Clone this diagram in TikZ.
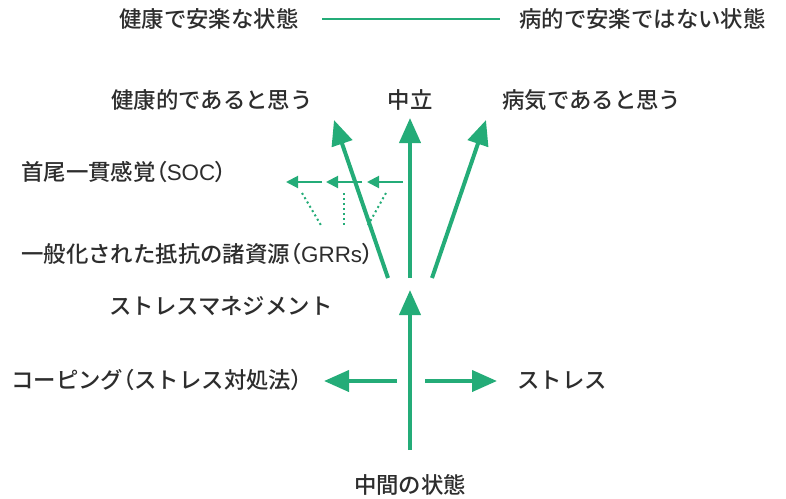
\documentclass[tikz,border=0pt]{standalone}
\usepackage{fontspec}
\setmainfont{Noto Sans CJK JP}[UprightFont=* Medium]
\newfontfamily\pfont{Noto Sans CJK JP}[UprightFont=* Medium, RawFeature=+palt]
\newfontfamily\latfont{Liberation Sans}
\usetikzlibrary{arrows.meta}
\definecolor{grn}{RGB}{36,172,120}
\definecolor{txt}{RGB}{45,45,45}
\newcommand{\lp}{{\pfont （}}
\newcommand{\rp}{{\pfont ）}}
\tikzset{
  lbl/.style={inner sep=0pt, text=txt, font=\fontsize{22.4}{26}\selectfont},
  bigarrow/.style={grn, line width=4pt, -{Triangle[length=25pt,width=21pt]}},
  smallarrow/.style={grn, line width=2pt, -{Triangle[length=12pt,width=12pt]}},
  dotline/.style={grn, line width=2pt, dash pattern=on 2pt off 3pt},
  plainline/.style={grn, line width=2pt}
}
\begin{document}
\begin{tikzpicture}[x=1pt,y=-1pt]
\useasboundingbox (0,0) rectangle (786,498);
% top scale
\node[lbl, anchor=west] (healthy) at (119,19) {健康で安楽な状態};
\node[lbl, anchor=west] (ill) at (519,19) {病的で安楽ではない状態};
\coordinate (la) at (322,19);
\coordinate (lb) at (500,19);
\draw[plainline] (la) -- (lb);
% row 2
\node[lbl, anchor=west] (think1) at (111,100) {健康的であると思う};
\node[lbl] (neutral) at (410,100) {中立};
\node[lbl, anchor=west] (think2) at (502,100) {病気であると思う};
% left labels
\node[lbl, anchor=west] (soc) at (21,172) {首尾一貫感覚\lp{\latfont SOC}\rp};
\node[lbl, anchor=west] (grr) at (21,254) {一般化された抵抗の諸資源\lp{\latfont GRRs}\rp};
\node[lbl, anchor=west] (sm) at (109,306) {ストレスマネジメント};
\node[lbl, anchor=west] (coping) at (11,380) {コーピング\lp ストレス対処法\rp};
\node[lbl, anchor=west] (stress) at (517,380) {ストレス};
\node[lbl] (mid) at (410,485) {中間の状態};
% upper fan arrows
\coordinate (uL0) at (388,278); \coordinate (uL1) at (334,120);
\coordinate (uM0) at (410,278); \coordinate (uM1) at (410,118);
\coordinate (uR0) at (432,278); \coordinate (uR1) at (486,120);
\draw[bigarrow] (uL0) -- (uL1);
\draw[bigarrow] (uM0) -- (uM1);
\draw[bigarrow] (uR0) -- (uR1);
% small SOC arrows
\coordinate (s1a) at (322,182); \coordinate (s1b) at (286,182);
\coordinate (s2a) at (362,182); \coordinate (s2b) at (326,182);
\coordinate (s3a) at (403,182); \coordinate (s3b) at (367,182);
\draw[smallarrow] (s1a) -- (s1b);
\draw[smallarrow] (s2a) -- (s2b);
\draw[smallarrow] (s3a) -- (s3b);
% dotted lines
\coordinate (d1a) at (302,193); \coordinate (d1b) at (322,227);
\coordinate (d2a) at (344,193); \coordinate (d2b) at (344,227);
\coordinate (d3a) at (386,193); \coordinate (d3b) at (367,227);
\draw[dotline] (d1a) -- (d1b);
\draw[dotline] (d2a) -- (d2b);
\draw[dotline] (d3a) -- (d3b);
% lower arrows
\coordinate (v0) at (410,450); \coordinate (v1) at (410,290);
\coordinate (hl0) at (397,381); \coordinate (hl1) at (324,381);
\coordinate (hr0) at (425,381); \coordinate (hr1) at (497,381);
\draw[bigarrow] (v0) -- (v1);
\draw[bigarrow] (hl0) -- (hl1);
\draw[bigarrow] (hr0) -- (hr1);
\end{tikzpicture}
\end{document}
